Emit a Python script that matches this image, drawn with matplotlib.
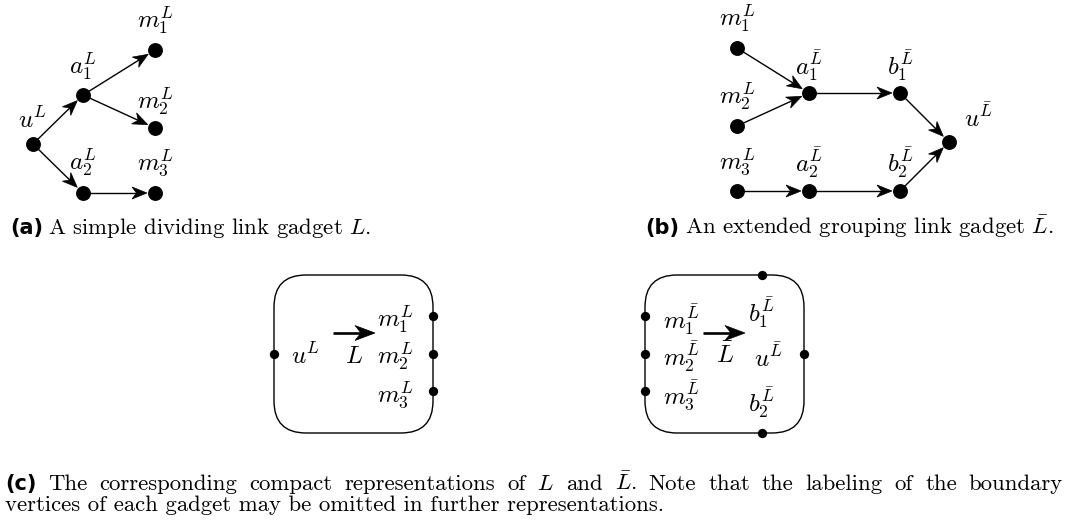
import numpy as np
import matplotlib
matplotlib.use("Agg")
import matplotlib.pyplot as plt
from matplotlib.patches import Polygon, FancyBboxPatch

plt.rcParams['mathtext.fontset'] = 'cm'

# ---- panel (a): simple dividing link gadget L ----
a_names = ['u', 'a1', 'a2', 'm1', 'm2', 'm3']
a_x = [33, 83, 83, 155, 155, 155]
a_y = [144, 95, 193, 50, 128, 193]
a_labels = [r'$u^L$', r'$a_1^L$', r'$a_2^L$', r'$m_1^L$', r'$m_2^L$', r'$m_3^L$']
a_lab_dx = [0, 0, 0, 0, 0, 0]
a_lab_dy = [-24, -28, -30, -29, -26, -30]
a_edges = [('u', 'a1'), ('u', 'a2'), ('a1', 'm1'), ('a1', 'm2'), ('a2', 'm3')]

# ---- panel (b): extended grouping link gadget L-bar ----
b_names = ['m1', 'm2', 'm3', 'a1', 'a2', 'b1', 'b2', 'u']
b_x = [737, 737, 737, 809, 809, 900, 900, 949]
b_y = [48, 126, 191, 93, 191, 93, 191, 142]
b_labels = [r'$m_1^L$', r'$m_2^L$', r'$m_3^L$', r'$a_1^{\bar{L}}$', r'$a_2^{\bar{L}}$',
            r'$b_1^{\bar{L}}$', r'$b_2^{\bar{L}}$', r'$u^{\bar{L}}$']
b_lab_dx = [0, 0, 0, 0, 0, 0, 0, 30]
b_lab_dy = [-29, -29, -29, -27, -28, -27, -28, -24]
b_edges = [('m1', 'a1'), ('m2', 'a1'), ('m3', 'a2'), ('a1', 'b1'), ('a2', 'b2'),
           ('b1', 'u'), ('b2', 'u')]

# ---- panel (c): compact representations ----
box1 = (274, 275, 433, 433)   # left, top, right, bottom
box1_dots_x = [274, 433, 433, 433]
box1_dots_y = [354, 316, 354, 391]
box1_text = [r'$u^L$', r'$m_1^L$', r'$m_2^L$', r'$m_3^L$', r'$L$']
box1_text_x = [306, 395, 395, 395, 354]
box1_text_y = [356, 320, 357, 395, 356]
box1_arrow = (333, 333, 375, 333)

box2 = (645, 275, 804, 433)
box2_dots_x = [645, 645, 645, 762, 762, 804]
box2_dots_y = [316, 354, 391, 275, 433, 354]
box2_text = [r'$m_1^{\bar{L}}$', r'$m_2^{\bar{L}}$', r'$m_3^{\bar{L}}$', r'$\bar{L}$',
             r'$b_1^{\bar{L}}$', r'$u^{\bar{L}}$', r'$b_2^{\bar{L}}$']
box2_text_x = [681, 681, 681, 725, 761, 769, 761]
box2_text_y = [320, 357, 395, 355, 313, 358, 403]
box2_arrow = (703, 333, 745, 333)

cap_a = r'A simple dividing link gadget $L$.'
cap_b = r'An extended grouping link gadget $\bar{L}$.'
cap_c1 = ['The', 'corresponding', 'compact', 'representations', 'of', r'$L$', 'and',
          r'$\bar{L}$.', 'Note', 'that', 'the', 'labeling', 'of', 'the', 'boundary']
cap_c2 = r'vertices of each gadget may be omitted in further representations.'

fig = plt.figure(figsize=(10.65, 5.22), dpi=100)
ax = fig.add_axes([0, 0, 1, 1])
ax.set_xlim(0, 1065)
ax.set_ylim(522, 0)
ax.axis('off')

LABEL_FS = 18


def stealth(ax, x0, y0, x1, y1, gap=8, hl=15, hw=6, inset=4.5, lw=1.0):
    p0 = np.array([x0, y0], float)
    p1 = np.array([x1, y1], float)
    d = (p1 - p0) / np.linalg.norm(p1 - p0)
    n = np.array([-d[1], d[0]])
    tip = p1 - gap * d
    back = tip - (hl - inset) * d
    ax.plot([p0[0], back[0]], [p0[1], back[1]], color='black', lw=lw,
            solid_capstyle='butt', zorder=2)
    head = [tip, tip - hl * d + hw * n, back, tip - hl * d - hw * n]
    ax.add_patch(Polygon(head, closed=True, fc='black', ec='black', lw=0.5, zorder=3))


def draw_graph(names, xs, ys, labels, ldx, ldy, edges):
    pos = {n: (x, y) for n, x, y in zip(names, xs, ys)}
    for s, t in edges:
        (x0, y0), (x1, y1) = pos[s], pos[t]
        stealth(ax, x0, y0, x1, y1)
    ax.scatter(xs, ys, s=115, color='black', zorder=4, linewidths=0)
    for x, y, lab, dx, dy in zip(xs, ys, labels, ldx, ldy):
        ax.text(x + dx, y + dy, lab, fontsize=LABEL_FS, ha='center', va='center')


draw_graph(a_names, a_x, a_y, a_labels, a_lab_dx, a_lab_dy, a_edges)
draw_graph(b_names, b_x, b_y, b_labels, b_lab_dx, b_lab_dy, b_edges)


def draw_box(box, dx, dy, texts, tx, ty, arrow):
    l, t, r, b = box
    ax.add_patch(FancyBboxPatch((l, t), r - l, b - t,
                                boxstyle='round,pad=0,rounding_size=32',
                                fc='none', ec='black', lw=1.0, zorder=2))
    ax.scatter(dx, dy, s=45, color='black', zorder=4, linewidths=0)
    for s, x, y in zip(texts, tx, ty):
        ax.text(x, y, s, fontsize=LABEL_FS, ha='center', va='center')
    x0, y0, x1, y1 = arrow
    stealth(ax, x0, y0, x1, y1, gap=0, hl=20, hw=7.5, inset=6, lw=1.9)


draw_box(box1, box1_dots_x, box1_dots_y, box1_text, box1_text_x, box1_text_y, box1_arrow)
draw_box(box2, box2_dots_x, box2_dots_y, box2_text, box2_text_x, box2_text_y, box2_arrow)

CAP_FS = 16.4
BOLD = dict(fontsize=15, fontweight='bold', family='DejaVu Sans', va='baseline')
BODY = dict(fontsize=CAP_FS, family='cmr10', va='baseline')

ax.text(10, 234, '(a)', **BOLD)
ax.text(48, 234, cap_a, **BODY)
ax.text(645, 234, '(b)', **BOLD)
ax.text(685, 234, cap_b, **BODY)
ax.text(5, 490, '(c)', **BOLD)
ax.text(5, 511, cap_c2, **BODY)

# justified first line of caption (c)
renderer = fig.canvas.get_renderer()
words = [ax.text(0, 490, w, **BODY) for w in cap_c1]
widths = [w.get_window_extent(renderer).width for w in words]
x_left, x_right = 48, 1063
gap = (x_right - x_left - sum(widths)) / (len(words) - 1)
x = x_left
for w, wd in zip(words, widths):
    w.set_x(x)
    x += wd + gap

fig.savefig('out.png', dpi=100)
